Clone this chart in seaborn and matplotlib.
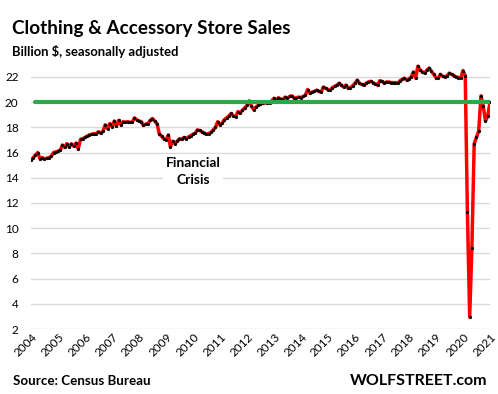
import pandas as pd
import matplotlib
matplotlib.use("Agg")
import matplotlib.pyplot as plt
import matplotlib.dates as mdates
import seaborn as sns

# Monthly clothing & accessory store sales, billion $, Jan 2004 - Jan 2021
START_MONTH = '2004-01-01'
sales = [
    # 2004
    15.4, 15.6, 15.8, 16.0, 15.5, 15.6, 15.5, 15.55, 15.6, 15.7, 16.0, 16.05,
    # 2005
    16.1, 16.2, 16.6, 16.4, 16.7, 16.45, 16.7, 16.5, 16.75, 16.3, 17.05, 17.1,
    # 2006
    17.2, 17.3, 17.4, 17.45, 17.5, 17.5, 17.65, 17.55, 17.7, 18.2, 17.9, 18.3,
    # 2007
    18.05, 18.5, 18.1, 18.55, 18.2, 18.45, 18.4, 18.45, 18.4, 18.4, 18.75, 18.6,
    # 2008
    18.5, 18.45, 18.15, 18.25, 18.3, 18.55, 18.7, 18.5, 18.3, 17.5, 17.3, 17.1,
    # 2009
    17.0, 17.4, 16.45, 16.9, 16.7, 16.9, 17.1, 17.05, 17.2, 17.1, 17.25, 17.35,
    # 2010
    17.45, 17.55, 17.8, 17.75, 17.65, 17.55, 17.45, 17.5, 17.6, 17.8, 18.0, 18.45,
    # 2011
    18.2, 18.35, 18.6, 18.75, 18.9, 19.1, 18.9, 18.85, 19.25, 19.15, 19.35, 19.55,
    # 2012
    19.75, 20.1, 19.7, 19.4, 19.6, 19.75, 19.85, 19.9, 20.0, 19.9, 19.95, 20.1,
    # 2013
    20.3, 20.15, 20.35, 20.25, 20.2, 20.4, 20.3, 20.45, 20.5, 20.3, 20.35, 20.4,
    # 2014
    20.35, 20.45, 20.55, 21.0, 20.7, 20.8, 20.85, 20.95, 20.85, 20.8, 21.2, 21.1,
    # 2015
    21.0, 20.95, 21.15, 21.25, 21.35, 21.5, 21.35, 21.2, 21.35, 21.1, 21.15, 21.3,
    # 2016
    21.5, 21.75, 21.5, 21.4, 21.35, 21.5, 21.6, 21.65, 21.55, 21.45, 21.35, 21.7,
    # 2017
    21.65, 21.5, 21.6, 21.6, 21.55, 21.55, 21.55, 21.5, 21.7, 21.8, 21.9, 21.75,
    # 2018
    21.85, 22.0, 22.4, 21.9, 22.85, 22.55, 22.4, 22.3, 22.55, 22.7, 22.45, 22.2,
    # 2019
    21.95, 21.9, 22.2, 22.05, 22.0, 22.1, 22.3, 22.2, 22.1, 22.0, 21.95, 21.9,
    # 2020
    22.5, 22.1, 11.3, 2.95, 8.45, 16.7, 17.2, 17.7, 20.5, 19.7, 18.5, 18.9,
    # 2021
    20.0,
]
ref_level = 20
ref_start = '2004-03-01'
years = list(range(2004, 2022))
yticks = list(range(2, 24, 2))

TITLE = 'Clothing & Accessory Store Sales'
SUBTITLE = 'Billion $, seasonally adjusted'
SOURCE = 'Source: Census Bureau'
BRAND = 'WOLFSTREET.com'
NOTE = 'Financial\nCrisis'
NOTE_DATE = '2010-01-01'
NOTE_Y = 14.5

COLORS = {
    'line': '#FF0000',
    'dot': '#000000',
    'ref': '#2BA84A',
    'grid': '#D9D9D9',
    'text': '#000000',
}

sns.set_theme(style="white")
plt.rcParams['font.family'] = ['Lato', 'DejaVu Sans']

df = pd.DataFrame({
    'month': pd.date_range(START_MONTH, periods=len(sales), freq='MS'),
    'sales': sales,
})
ref = pd.DataFrame({
    'month': [pd.Timestamp(ref_start), df['month'].iloc[-1]],
    'level': [ref_level, ref_level],
})

W, H = 498, 394
fig = plt.figure(figsize=(W / 100, H / 100), dpi=100)
ax = fig.add_axes([31 / W, 65 / H, (490 - 31) / W, (336 - 65) / H])

sns.lineplot(data=df, x='month', y='sales', ax=ax, color=COLORS['line'],
             linewidth=2.5, marker='o', markersize=2.0,
             markerfacecolor=COLORS['dot'], markeredgecolor=COLORS['dot'],
             markeredgewidth=0.3, zorder=3)
sns.lineplot(data=ref, x='month', y='level', ax=ax, color=COLORS['ref'],
             linewidth=3.0, zorder=4)

ax.set_xlim(pd.Timestamp(f'{years[0]}-01-01'), pd.Timestamp(f'{years[-1]}-01-01'))
ax.set_ylim(2, 23.5)
ax.set_yticks(yticks)
ax.set_xticks([pd.Timestamp(f'{y}-01-01') for y in years])
ax.xaxis.set_major_formatter(mdates.DateFormatter('%Y'))
ax.yaxis.grid(True, color=COLORS['grid'], linewidth=1.0)
ax.xaxis.grid(False)
for s in ax.spines.values():
    s.set_visible(False)
ax.set_xlabel('')
ax.set_ylabel('')
ax.tick_params(axis='y', labelsize=8.5, pad=9, length=0, colors=COLORS['text'])
ax.tick_params(axis='x', labelsize=8.5, pad=2, length=0, colors=COLORS['text'])
plt.setp(ax.get_xticklabels(), rotation=45, ha='right', rotation_mode='anchor')

ax.text(pd.Timestamp(NOTE_DATE), NOTE_Y, NOTE, ha='center', va='center',
        fontsize=10, fontweight='bold', color=COLORS['text'], linespacing=1.45,
        bbox=dict(facecolor='white', edgecolor='none', pad=2), zorder=5)

fig.text(12 / W, 1 - 34 / H, TITLE, fontsize=13.6, fontweight='bold',
         color=COLORS['text'], va='baseline', ha='left')
fig.text(12 / W, 1 - 55.5 / H, SUBTITLE, fontsize=9.4, fontweight='bold',
         color=COLORS['text'], va='baseline', ha='left')
fig.text(13 / W, 1 - 385 / H, SOURCE, fontsize=9.6, fontweight='bold',
         color=COLORS['text'], va='baseline', ha='left')
fig.text(487 / W, 1 - 385 / H, BRAND, fontsize=11.5, fontweight='bold',
         color=COLORS['text'], va='baseline', ha='right')

fig.savefig('out.png', dpi=100, facecolor='white')
